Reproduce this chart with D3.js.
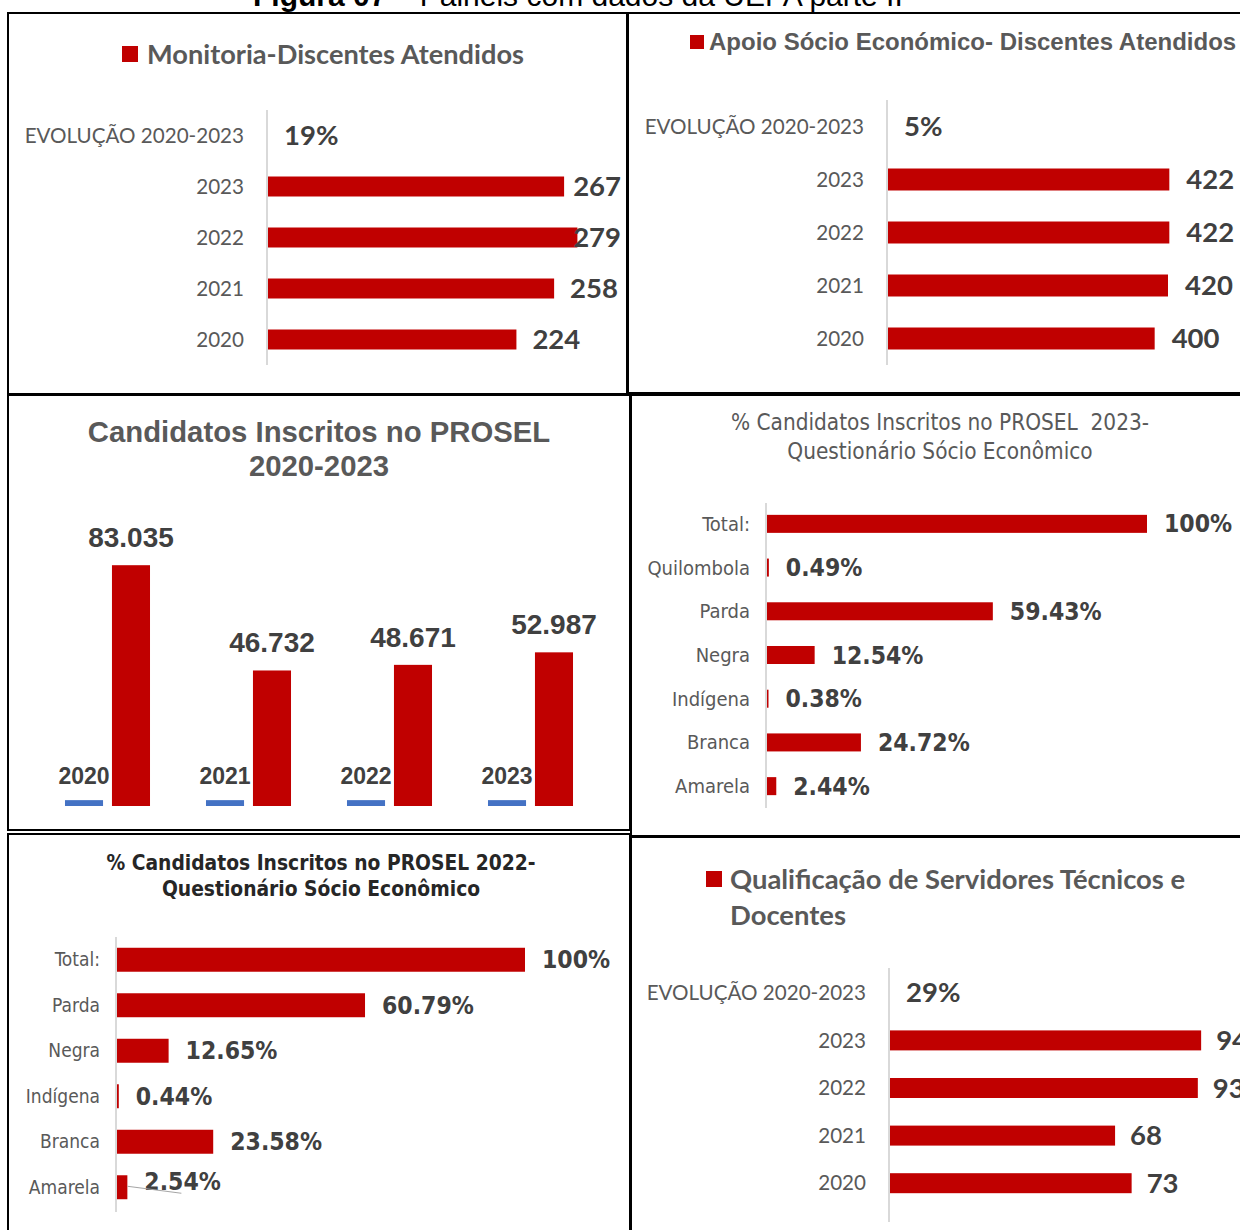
<!DOCTYPE html>
<html><head><meta charset="utf-8">
<script src="https://cdn.jsdelivr.net/npm/d3@7"></script>
<style>
body{margin:0;background:#fff}
svg{display:block}
</style></head><body>
<svg id="c" width="1240" height="1230"></svg>
<script>
// ---------- DATA ----------
const captionBold = "Figura 07";
const captionRest = " – Painéis com dados da UEPA parte II";
const evoLabel = "EVOLUÇÃO 2020-2023";
const yearCats = ["2023", "2022", "2021", "2020"];

const monitoriaTitle = "Monitoria-Discentes Atendidos";
const monitoriaValues = [267, 279, 258, 224];
const monitoriaEvolution = "19%";

const apoioTitle = "Apoio Sócio Económico- Discentes Atendidos";
const apoioValues = [422, 422, 420, 400];
const apoioEvolution = "5%";

const proselTitle = ["Candidatos Inscritos no PROSEL", "2020-2023"];
const proselYears = [2020, 2021, 2022, 2023];
const proselCandidates = [83035, 46732, 48671, 52987];
const proselLabels = ["83.035", "46.732", "48.671", "52.987"];

const q2023Title = ["% Candidatos Inscritos no PROSEL  2023-", "Questionário Sócio Econômico"];
const q2023Cats = ["Total:", "Quilombola", "Parda", "Negra", "Indígena", "Branca", "Amarela"];
const q2023Values = [100, 0.49, 59.43, 12.54, 0.38, 24.72, 2.44];

const q2022Title = ["% Candidatos Inscritos no PROSEL 2022-", "Questionário Sócio Econômico"];
const q2022Cats = ["Total:", "Parda", "Negra", "Indígena", "Branca", "Amarela"];
const q2022Values = [100, 60.79, 12.65, 0.44, 23.58, 2.54];

const qualTitle = ["Qualificação de Servidores Técnicos e", "Docentes"];
const qualValues = [94, 93, 68, 73];
const qualEvolution = "29%";

// ---------- STYLE ----------
const RED = "#C00000", GREY = "#595959", DARK = "#404040", AXIS = "#D9D9D9", BLUE = "#4472C4";
const CAL = "Lato, 'Open Sans', sans-serif";
const ARIAL = "'Liberation Sans', Arial, sans-serif";
const NARROW = "'Liberation Sans Narrow','Arial Narrow','DejaVu Sans Condensed',sans-serif";

const svg = d3.select("#c");

// caption (cut at top)
const cap = svg.append("text").attr("x", 253).attr("y", 6)
  .attr("font-family", ARIAL).attr("font-size", 30).attr("fill", "#000");
cap.append("tspan").attr("font-weight", "bold").text(captionBold);
cap.append("tspan").text(captionRest);

// panel borders
const frames = [[8,13,619,381],[628,13,620,380],[8,395,622,435],[631,395,620,441],[8,834,622,400],[631,837,620,400]];
svg.selectAll("rect.frame").data(frames).join("rect").attr("class","frame")
  .attr("x", d => d[0]).attr("y", d => d[1]).attr("width", d => d[2]).attr("height", d => d[3])
  .attr("fill", "none").attr("stroke", "#000").attr("stroke-width", 2);

// ---------- horizontal bar panel ----------
function hbar(cfg) {
  const g = svg.append("g");
  const y = d3.scaleBand().domain(cfg.cats).range(cfg.yRange).paddingInner(cfg.pad).paddingOuter(cfg.pad / 2);
  const x = d3.scaleLinear().domain(cfg.xDomain).range(cfg.xRange);
  const x0 = x(0);
  g.append("line").attr("x1", x0 - 1).attr("x2", x0 - 1).attr("y1", cfg.axisY[0]).attr("y2", cfg.axisY[1])
    .attr("stroke", AXIS).attr("stroke-width", 2);
  const ax = g.append("g").attr("transform", `translate(${x0},0)`)
    .call(d3.axisLeft(y).tickSize(0).tickPadding(cfg.catPad));
  ax.select(".domain").remove();
  ax.selectAll("text").attr("font-family", cfg.catFont).attr("font-size", cfg.catSize)
    .attr("fill", GREY).attr("dy", "0.35em");
  const rows = cfg.cats.map((c, i) => ({ c, v: cfg.values[i], label: cfg.labels[i] }));
  g.selectAll("rect.bar").data(rows.filter(r => r.v != null)).join("rect")
    .attr("x", x0).attr("y", d => y(d.c)).attr("height", y.bandwidth())
    .attr("width", d => Math.max(1.5, x(d.v) - x0)).attr("fill", RED);
  const t = g.selectAll("text.val").data(rows).join("text")
    .attr("font-family", cfg.valFont).attr("font-size", cfg.valSize).attr("font-weight", "bold")
    .attr("fill", DARK).attr("dy", "0.35em")
    .attr("y", d => y(d.c) + y.bandwidth() / 2 + (cfg.valDy ? cfg.valDy(d) : 0))
    .text(d => d.label);
  t.attr("x", function (d) {
    if (d.v == null) return x0 + cfg.evoOff;
    let px = x(d.v) + cfg.valOff;
    if (cfg.clampRight) px = Math.min(px, cfg.clampRight - this.getComputedTextLength());
    return px;
  });
  return { g, x, y };
}

function legendTitle(lines, sx, sy, ss, tx, ty, lh, font, size) {
  svg.append("rect").attr("x", sx).attr("y", sy).attr("width", ss).attr("height", ss).attr("fill", RED);
  lines.forEach((l, i) => svg.append("text").attr("x", tx).attr("y", ty + i * lh)
    .attr("font-family", font).attr("font-size", size).attr("font-weight", "bold")
    .attr("fill", GREY).attr("dy", "0.35em").text(l));
}

// Panel 1 - Monitoria
legendTitle([monitoriaTitle], 122, 46, 16, 147, 54, 0, CAL, 27.2);
hbar({
  cats: [evoLabel, ...yearCats], values: [null, ...monitoriaValues],
  labels: [monitoriaEvolution, ...monitoriaValues.map(String)],
  yRange: [110, 365], pad: 0.608, xDomain: [0, 300], xRange: [268, 268 + 332.7], axisY: [110, 365],
  catPad: 24, catFont: CAL, catSize: 20.6, valFont: CAL, valSize: 27.5, valOff: 16, evoOff: 16, clampRight: 621
});

// Panel 2 - Apoio
legendTitle([apoioTitle], 690, 35, 14, 709, 42, 0, ARIAL, 24);
hbar({
  cats: [evoLabel, ...yearCats], values: [null, ...apoioValues],
  labels: [apoioEvolution, ...apoioValues.map(String)],
  yRange: [100, 365], pad: 0.585, xDomain: [0, 450], xRange: [888, 888 + 300], axisY: [100, 365],
  catPad: 24, catFont: CAL, catSize: 20.6, valFont: CAL, valSize: 27.5, valOff: 17, evoOff: 16
});

// Panel 3 - PROSEL candidates (vertical)
{
  const g = svg.append("g");
  proselTitle.forEach((l, i) => g.append("text").attr("x", 319).attr("y", 432 + i * 34)
    .attr("text-anchor", "middle").attr("dy", "0.35em").attr("font-family", ARIAL)
    .attr("font-size", 29.3).attr("font-weight", "bold").attr("fill", GREY).text(l));
  const x0 = d3.scaleBand().domain(proselYears).range([37, 601]).paddingInner(0.397).paddingOuter(0.1985);
  const x1 = d3.scaleBand().domain(["year", "value"]).range([0, x0.bandwidth()]).paddingInner(0.19);
  const y = d3.scaleLinear().domain([0, 90000]).range([806, 545]);
  const rows = proselYears.map((yr, i) => ({ yr, v: proselCandidates[i], lab: proselLabels[i] }));
  const grp = g.selectAll("g.grp").data(rows).join("g").attr("transform", d => `translate(${x0(d.yr)},0)`);
  grp.append("rect").attr("x", x1("year")).attr("width", x1.bandwidth())
    .attr("y", d => y(d.yr)).attr("height", d => y(0) - y(d.yr)).attr("fill", BLUE);
  grp.append("rect").attr("x", x1("value")).attr("width", x1.bandwidth())
    .attr("y", d => y(d.v)).attr("height", d => y(0) - y(d.v)).attr("fill", RED);
  grp.append("text").attr("x", x1("year") + x1.bandwidth() / 2).attr("y", d => y(d.yr) - 16)
    .attr("text-anchor", "middle").attr("font-family", ARIAL).attr("font-size", 23).attr("font-weight", "bold")
    .attr("fill", DARK).text(d => String(d.yr));
  grp.append("text").attr("x", x1("value") + x1.bandwidth() / 2).attr("y", d => y(d.v) - 18)
    .attr("text-anchor", "middle").attr("font-family", ARIAL).attr("font-size", 28).attr("font-weight", "bold")
    .attr("fill", DARK).text(d => d.lab);
}

// Panel 4 - 2023 questionnaire
q2023Title.forEach((l, i) => svg.append("text").attr("x", 940).attr("y", 422 + i * 29)
  .attr("text-anchor", "middle").attr("dy", "0.35em").attr("font-family", NARROW)
  .attr("font-size", 22.4).attr("fill", GREY).style("white-space", "pre").text(l));
hbar({
  cats: q2023Cats, values: q2023Values, labels: q2023Values.map(v => v + "%"),
  yRange: [502, 808], pad: 0.588, xDomain: [0, 100], xRange: [767, 1147], axisY: [503, 808],
  catPad: 17, catFont: NARROW, catSize: 20, valFont: NARROW, valSize: 24.5, valOff: 17, evoOff: 0
});

// Panel 5 - 2022 questionnaire
q2022Title.forEach((l, i) => svg.append("text").attr("x", 321).attr("y", 863 + i * 26)
  .attr("text-anchor", "middle").attr("dy", "0.35em").attr("font-family", NARROW)
  .attr("font-size", 20.8).attr("font-weight", "bold").attr("fill", "#262626").text(l));
const p5 = hbar({
  cats: q2022Cats, values: q2022Values, labels: q2022Values.map(v => v + "%"),
  yRange: [937, 1210], pad: 0.473, xDomain: [0, 100], xRange: [117, 525], axisY: [937, 1212],
  catPad: 17, catFont: NARROW, catSize: 19, valFont: NARROW, valSize: 24.5, valOff: 17, evoOff: 0,
  valDy: d => d.c === "Amarela" ? -6 : 0
});
{
  const yA = p5.y("Amarela") + p5.y.bandwidth() / 2;
  p5.g.append("line").attr("x1", p5.x(q2022Values[5])).attr("y1", yA - 1)
    .attr("x2", p5.x(q2022Values[5]) + 54).attr("y2", yA + 6).attr("stroke", "#A6A6A6").attr("stroke-width", 1.2);
}

// Panel 6 - Qualificação
legendTitle(qualTitle, 706, 871, 16, 730, 879, 36, CAL, 27.4);
hbar({
  cats: [evoLabel, ...yearCats], values: [null, ...qualValues],
  labels: [qualEvolution, ...qualValues.map(String)],
  yRange: [969, 1207], pad: 0.58, xDomain: [0, 100], xRange: [890, 1221], axisY: [968, 1222],
  catPad: 24, catFont: CAL, catSize: 20.6, valFont: CAL, valSize: 27.5, valOff: 15, evoOff: 16
});
</script>
</body></html>
